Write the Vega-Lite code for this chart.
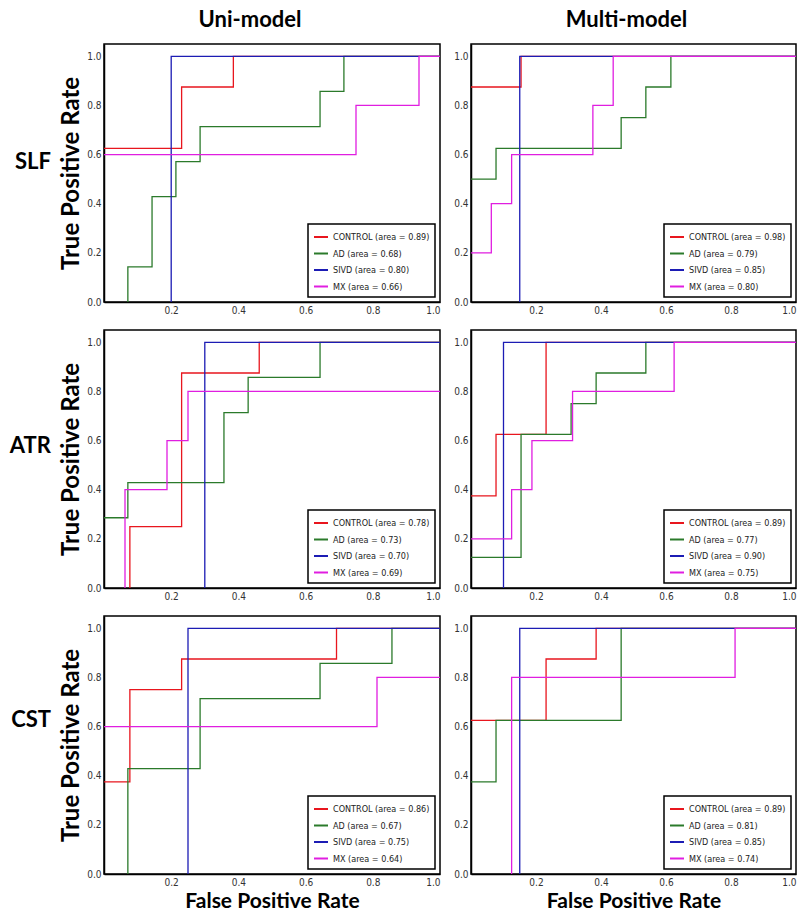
{
  "$schema": "https://vega.github.io/schema/vega-lite/v6.json",
  "padding": {"left": 9, "top": 8, "right": 2, "bottom": 2},
  "datasets": {
    "roc": [
      {"p":"SU","k":1,"label":"CONTROL (area = 0.89)","fpr":0,"tpr":0.625},
      {"p":"SU","k":1,"label":"CONTROL (area = 0.89)","fpr":0.231,"tpr":0.625},
      {"p":"SU","k":1,"label":"CONTROL (area = 0.89)","fpr":0.231,"tpr":0.875},
      {"p":"SU","k":1,"label":"CONTROL (area = 0.89)","fpr":0.385,"tpr":0.875},
      {"p":"SU","k":1,"label":"CONTROL (area = 0.89)","fpr":0.385,"tpr":1},
      {"p":"SU","k":1,"label":"CONTROL (area = 0.89)","fpr":1,"tpr":1},
      {"p":"SU","k":2,"label":"AD (area = 0.68)","fpr":0.071,"tpr":0},
      {"p":"SU","k":2,"label":"AD (area = 0.68)","fpr":0.071,"tpr":0.143},
      {"p":"SU","k":2,"label":"AD (area = 0.68)","fpr":0.143,"tpr":0.143},
      {"p":"SU","k":2,"label":"AD (area = 0.68)","fpr":0.143,"tpr":0.429},
      {"p":"SU","k":2,"label":"AD (area = 0.68)","fpr":0.214,"tpr":0.429},
      {"p":"SU","k":2,"label":"AD (area = 0.68)","fpr":0.214,"tpr":0.571},
      {"p":"SU","k":2,"label":"AD (area = 0.68)","fpr":0.286,"tpr":0.571},
      {"p":"SU","k":2,"label":"AD (area = 0.68)","fpr":0.286,"tpr":0.714},
      {"p":"SU","k":2,"label":"AD (area = 0.68)","fpr":0.643,"tpr":0.714},
      {"p":"SU","k":2,"label":"AD (area = 0.68)","fpr":0.643,"tpr":0.857},
      {"p":"SU","k":2,"label":"AD (area = 0.68)","fpr":0.714,"tpr":0.857},
      {"p":"SU","k":2,"label":"AD (area = 0.68)","fpr":0.714,"tpr":1},
      {"p":"SU","k":2,"label":"AD (area = 0.68)","fpr":1,"tpr":1},
      {"p":"SU","k":3,"label":"SIVD (area = 0.80)","fpr":0.2,"tpr":0},
      {"p":"SU","k":3,"label":"SIVD (area = 0.80)","fpr":0.2,"tpr":1},
      {"p":"SU","k":3,"label":"SIVD (area = 0.80)","fpr":1,"tpr":1},
      {"p":"SU","k":4,"label":"MX (area = 0.66)","fpr":0,"tpr":0.6},
      {"p":"SU","k":4,"label":"MX (area = 0.66)","fpr":0.75,"tpr":0.6},
      {"p":"SU","k":4,"label":"MX (area = 0.66)","fpr":0.75,"tpr":0.8},
      {"p":"SU","k":4,"label":"MX (area = 0.66)","fpr":0.9375,"tpr":0.8},
      {"p":"SU","k":4,"label":"MX (area = 0.66)","fpr":0.9375,"tpr":1},
      {"p":"SU","k":4,"label":"MX (area = 0.66)","fpr":1,"tpr":1},

      {"p":"SM","k":1,"label":"CONTROL (area = 0.98)","fpr":0,"tpr":0.875},
      {"p":"SM","k":1,"label":"CONTROL (area = 0.98)","fpr":0.154,"tpr":0.875},
      {"p":"SM","k":1,"label":"CONTROL (area = 0.98)","fpr":0.154,"tpr":1},
      {"p":"SM","k":1,"label":"CONTROL (area = 0.98)","fpr":1,"tpr":1},
      {"p":"SM","k":2,"label":"AD (area = 0.79)","fpr":0,"tpr":0.5},
      {"p":"SM","k":2,"label":"AD (area = 0.79)","fpr":0.077,"tpr":0.5},
      {"p":"SM","k":2,"label":"AD (area = 0.79)","fpr":0.077,"tpr":0.625},
      {"p":"SM","k":2,"label":"AD (area = 0.79)","fpr":0.462,"tpr":0.625},
      {"p":"SM","k":2,"label":"AD (area = 0.79)","fpr":0.462,"tpr":0.75},
      {"p":"SM","k":2,"label":"AD (area = 0.79)","fpr":0.538,"tpr":0.75},
      {"p":"SM","k":2,"label":"AD (area = 0.79)","fpr":0.538,"tpr":0.875},
      {"p":"SM","k":2,"label":"AD (area = 0.79)","fpr":0.615,"tpr":0.875},
      {"p":"SM","k":2,"label":"AD (area = 0.79)","fpr":0.615,"tpr":1},
      {"p":"SM","k":2,"label":"AD (area = 0.79)","fpr":1,"tpr":1},
      {"p":"SM","k":3,"label":"SIVD (area = 0.85)","fpr":0.15,"tpr":0},
      {"p":"SM","k":3,"label":"SIVD (area = 0.85)","fpr":0.15,"tpr":1},
      {"p":"SM","k":3,"label":"SIVD (area = 0.85)","fpr":1,"tpr":1},
      {"p":"SM","k":4,"label":"MX (area = 0.80)","fpr":0,"tpr":0.2},
      {"p":"SM","k":4,"label":"MX (area = 0.80)","fpr":0.0625,"tpr":0.2},
      {"p":"SM","k":4,"label":"MX (area = 0.80)","fpr":0.0625,"tpr":0.4},
      {"p":"SM","k":4,"label":"MX (area = 0.80)","fpr":0.125,"tpr":0.4},
      {"p":"SM","k":4,"label":"MX (area = 0.80)","fpr":0.125,"tpr":0.6},
      {"p":"SM","k":4,"label":"MX (area = 0.80)","fpr":0.375,"tpr":0.6},
      {"p":"SM","k":4,"label":"MX (area = 0.80)","fpr":0.375,"tpr":0.8},
      {"p":"SM","k":4,"label":"MX (area = 0.80)","fpr":0.4375,"tpr":0.8},
      {"p":"SM","k":4,"label":"MX (area = 0.80)","fpr":0.4375,"tpr":1},
      {"p":"SM","k":4,"label":"MX (area = 0.80)","fpr":1,"tpr":1},

      {"p":"AU","k":1,"label":"CONTROL (area = 0.78)","fpr":0.077,"tpr":0},
      {"p":"AU","k":1,"label":"CONTROL (area = 0.78)","fpr":0.077,"tpr":0.25},
      {"p":"AU","k":1,"label":"CONTROL (area = 0.78)","fpr":0.231,"tpr":0.25},
      {"p":"AU","k":1,"label":"CONTROL (area = 0.78)","fpr":0.231,"tpr":0.875},
      {"p":"AU","k":1,"label":"CONTROL (area = 0.78)","fpr":0.462,"tpr":0.875},
      {"p":"AU","k":1,"label":"CONTROL (area = 0.78)","fpr":0.462,"tpr":1},
      {"p":"AU","k":1,"label":"CONTROL (area = 0.78)","fpr":1,"tpr":1},
      {"p":"AU","k":2,"label":"AD (area = 0.73)","fpr":0,"tpr":0.286},
      {"p":"AU","k":2,"label":"AD (area = 0.73)","fpr":0.071,"tpr":0.286},
      {"p":"AU","k":2,"label":"AD (area = 0.73)","fpr":0.071,"tpr":0.429},
      {"p":"AU","k":2,"label":"AD (area = 0.73)","fpr":0.357,"tpr":0.429},
      {"p":"AU","k":2,"label":"AD (area = 0.73)","fpr":0.357,"tpr":0.714},
      {"p":"AU","k":2,"label":"AD (area = 0.73)","fpr":0.429,"tpr":0.714},
      {"p":"AU","k":2,"label":"AD (area = 0.73)","fpr":0.429,"tpr":0.857},
      {"p":"AU","k":2,"label":"AD (area = 0.73)","fpr":0.643,"tpr":0.857},
      {"p":"AU","k":2,"label":"AD (area = 0.73)","fpr":0.643,"tpr":1},
      {"p":"AU","k":2,"label":"AD (area = 0.73)","fpr":1,"tpr":1},
      {"p":"AU","k":3,"label":"SIVD (area = 0.70)","fpr":0.3,"tpr":0},
      {"p":"AU","k":3,"label":"SIVD (area = 0.70)","fpr":0.3,"tpr":1},
      {"p":"AU","k":3,"label":"SIVD (area = 0.70)","fpr":1,"tpr":1},
      {"p":"AU","k":4,"label":"MX (area = 0.69)","fpr":0.0625,"tpr":0},
      {"p":"AU","k":4,"label":"MX (area = 0.69)","fpr":0.0625,"tpr":0.4},
      {"p":"AU","k":4,"label":"MX (area = 0.69)","fpr":0.1875,"tpr":0.4},
      {"p":"AU","k":4,"label":"MX (area = 0.69)","fpr":0.1875,"tpr":0.6},
      {"p":"AU","k":4,"label":"MX (area = 0.69)","fpr":0.25,"tpr":0.6},
      {"p":"AU","k":4,"label":"MX (area = 0.69)","fpr":0.25,"tpr":0.8},
      {"p":"AU","k":4,"label":"MX (area = 0.69)","fpr":1,"tpr":0.8},

      {"p":"AM","k":1,"label":"CONTROL (area = 0.89)","fpr":0,"tpr":0.375},
      {"p":"AM","k":1,"label":"CONTROL (area = 0.89)","fpr":0.077,"tpr":0.375},
      {"p":"AM","k":1,"label":"CONTROL (area = 0.89)","fpr":0.077,"tpr":0.625},
      {"p":"AM","k":1,"label":"CONTROL (area = 0.89)","fpr":0.231,"tpr":0.625},
      {"p":"AM","k":1,"label":"CONTROL (area = 0.89)","fpr":0.231,"tpr":1},
      {"p":"AM","k":1,"label":"CONTROL (area = 0.89)","fpr":1,"tpr":1},
      {"p":"AM","k":2,"label":"AD (area = 0.77)","fpr":0,"tpr":0.125},
      {"p":"AM","k":2,"label":"AD (area = 0.77)","fpr":0.154,"tpr":0.125},
      {"p":"AM","k":2,"label":"AD (area = 0.77)","fpr":0.154,"tpr":0.625},
      {"p":"AM","k":2,"label":"AD (area = 0.77)","fpr":0.308,"tpr":0.625},
      {"p":"AM","k":2,"label":"AD (area = 0.77)","fpr":0.308,"tpr":0.75},
      {"p":"AM","k":2,"label":"AD (area = 0.77)","fpr":0.385,"tpr":0.75},
      {"p":"AM","k":2,"label":"AD (area = 0.77)","fpr":0.385,"tpr":0.875},
      {"p":"AM","k":2,"label":"AD (area = 0.77)","fpr":0.538,"tpr":0.875},
      {"p":"AM","k":2,"label":"AD (area = 0.77)","fpr":0.538,"tpr":1},
      {"p":"AM","k":2,"label":"AD (area = 0.77)","fpr":1,"tpr":1},
      {"p":"AM","k":3,"label":"SIVD (area = 0.90)","fpr":0.1,"tpr":0},
      {"p":"AM","k":3,"label":"SIVD (area = 0.90)","fpr":0.1,"tpr":1},
      {"p":"AM","k":3,"label":"SIVD (area = 0.90)","fpr":1,"tpr":1},
      {"p":"AM","k":4,"label":"MX (area = 0.75)","fpr":0,"tpr":0.2},
      {"p":"AM","k":4,"label":"MX (area = 0.75)","fpr":0.125,"tpr":0.2},
      {"p":"AM","k":4,"label":"MX (area = 0.75)","fpr":0.125,"tpr":0.4},
      {"p":"AM","k":4,"label":"MX (area = 0.75)","fpr":0.1875,"tpr":0.4},
      {"p":"AM","k":4,"label":"MX (area = 0.75)","fpr":0.1875,"tpr":0.6},
      {"p":"AM","k":4,"label":"MX (area = 0.75)","fpr":0.3125,"tpr":0.6},
      {"p":"AM","k":4,"label":"MX (area = 0.75)","fpr":0.3125,"tpr":0.8},
      {"p":"AM","k":4,"label":"MX (area = 0.75)","fpr":0.625,"tpr":0.8},
      {"p":"AM","k":4,"label":"MX (area = 0.75)","fpr":0.625,"tpr":1},
      {"p":"AM","k":4,"label":"MX (area = 0.75)","fpr":1,"tpr":1},

      {"p":"CU","k":1,"label":"CONTROL (area = 0.86)","fpr":0,"tpr":0.375},
      {"p":"CU","k":1,"label":"CONTROL (area = 0.86)","fpr":0.077,"tpr":0.375},
      {"p":"CU","k":1,"label":"CONTROL (area = 0.86)","fpr":0.077,"tpr":0.75},
      {"p":"CU","k":1,"label":"CONTROL (area = 0.86)","fpr":0.231,"tpr":0.75},
      {"p":"CU","k":1,"label":"CONTROL (area = 0.86)","fpr":0.231,"tpr":0.875},
      {"p":"CU","k":1,"label":"CONTROL (area = 0.86)","fpr":0.692,"tpr":0.875},
      {"p":"CU","k":1,"label":"CONTROL (area = 0.86)","fpr":0.692,"tpr":1},
      {"p":"CU","k":1,"label":"CONTROL (area = 0.86)","fpr":1,"tpr":1},
      {"p":"CU","k":2,"label":"AD (area = 0.67)","fpr":0.071,"tpr":0},
      {"p":"CU","k":2,"label":"AD (area = 0.67)","fpr":0.071,"tpr":0.429},
      {"p":"CU","k":2,"label":"AD (area = 0.67)","fpr":0.286,"tpr":0.429},
      {"p":"CU","k":2,"label":"AD (area = 0.67)","fpr":0.286,"tpr":0.714},
      {"p":"CU","k":2,"label":"AD (area = 0.67)","fpr":0.643,"tpr":0.714},
      {"p":"CU","k":2,"label":"AD (area = 0.67)","fpr":0.643,"tpr":0.857},
      {"p":"CU","k":2,"label":"AD (area = 0.67)","fpr":0.857,"tpr":0.857},
      {"p":"CU","k":2,"label":"AD (area = 0.67)","fpr":0.857,"tpr":1},
      {"p":"CU","k":2,"label":"AD (area = 0.67)","fpr":1,"tpr":1},
      {"p":"CU","k":3,"label":"SIVD (area = 0.75)","fpr":0.25,"tpr":0},
      {"p":"CU","k":3,"label":"SIVD (area = 0.75)","fpr":0.25,"tpr":1},
      {"p":"CU","k":3,"label":"SIVD (area = 0.75)","fpr":1,"tpr":1},
      {"p":"CU","k":4,"label":"MX (area = 0.64)","fpr":0,"tpr":0.6},
      {"p":"CU","k":4,"label":"MX (area = 0.64)","fpr":0.8125,"tpr":0.6},
      {"p":"CU","k":4,"label":"MX (area = 0.64)","fpr":0.8125,"tpr":0.8},
      {"p":"CU","k":4,"label":"MX (area = 0.64)","fpr":1,"tpr":0.8},

      {"p":"CM","k":1,"label":"CONTROL (area = 0.89)","fpr":0,"tpr":0.625},
      {"p":"CM","k":1,"label":"CONTROL (area = 0.89)","fpr":0.231,"tpr":0.625},
      {"p":"CM","k":1,"label":"CONTROL (area = 0.89)","fpr":0.231,"tpr":0.875},
      {"p":"CM","k":1,"label":"CONTROL (area = 0.89)","fpr":0.385,"tpr":0.875},
      {"p":"CM","k":1,"label":"CONTROL (area = 0.89)","fpr":0.385,"tpr":1},
      {"p":"CM","k":1,"label":"CONTROL (area = 0.89)","fpr":1,"tpr":1},
      {"p":"CM","k":2,"label":"AD (area = 0.81)","fpr":0,"tpr":0.375},
      {"p":"CM","k":2,"label":"AD (area = 0.81)","fpr":0.077,"tpr":0.375},
      {"p":"CM","k":2,"label":"AD (area = 0.81)","fpr":0.077,"tpr":0.625},
      {"p":"CM","k":2,"label":"AD (area = 0.81)","fpr":0.462,"tpr":0.625},
      {"p":"CM","k":2,"label":"AD (area = 0.81)","fpr":0.462,"tpr":1},
      {"p":"CM","k":2,"label":"AD (area = 0.81)","fpr":1,"tpr":1},
      {"p":"CM","k":3,"label":"SIVD (area = 0.85)","fpr":0.15,"tpr":0},
      {"p":"CM","k":3,"label":"SIVD (area = 0.85)","fpr":0.15,"tpr":1},
      {"p":"CM","k":3,"label":"SIVD (area = 0.85)","fpr":1,"tpr":1},
      {"p":"CM","k":4,"label":"MX (area = 0.74)","fpr":0.125,"tpr":0},
      {"p":"CM","k":4,"label":"MX (area = 0.74)","fpr":0.125,"tpr":0.8},
      {"p":"CM","k":4,"label":"MX (area = 0.74)","fpr":0.8125,"tpr":0.8},
      {"p":"CM","k":4,"label":"MX (area = 0.74)","fpr":0.8125,"tpr":1},
      {"p":"CM","k":4,"label":"MX (area = 0.74)","fpr":1,"tpr":1}
    ]
  },
  "spacing": 13,
  "resolve": {"scale": {"color": "independent"}, "legend": {"color": "independent"}},
  "vconcat": [
    {
      "title": {"text": "SLF", "orient": "left", "angle": 0, "align": "left", "baseline": "middle", "anchor": "middle", "offset": 8, "dy": 0},
      "spacing": 8,
      "resolve": {"scale": {"color": "independent"}, "legend": {"color": "independent"}},
      "hconcat": [
        {
          "title": {"text": "Uni-model", "dx": -22},
          "width": 336, "height": 258,
          "data": {"name": "roc"},
          "transform": [{"window": [{"op": "row_number", "as": "i"}]}, {"filter": "datum.p == 'SU'"}],
          "mark": {"type": "line", "strokeWidth": 1.3},
          "encoding": {
            "x": {"field": "fpr", "type": "quantitative", "scale": {"domain": [0, 1], "nice": false}, "axis": {"values": [0.2, 0.4, 0.6, 0.8, 1.0], "format": ".1f", "title": null}},
            "y": {"field": "tpr", "type": "quantitative", "scale": {"domain": [0, 1.05], "nice": false}, "axis": {"values": [0, 0.2, 0.4, 0.6, 0.8, 1.0], "format": ".1f", "title": "True Positive Rate"}},
            "color": {"field": "label", "type": "nominal", "sort": {"field": "k", "op": "min"}, "scale": {"range": ["#e8161e", "#2b7a2b", "#1c1cb4", "#e01ee0"]}, "legend": {"title": null}},
            "order": {"field": "i"}
          }
        },
        {
          "title": {"text": "Multi-model", "dx": -7},
          "width": 325, "height": 258,
          "data": {"name": "roc"},
          "transform": [{"window": [{"op": "row_number", "as": "i"}]}, {"filter": "datum.p == 'SM'"}],
          "mark": {"type": "line", "strokeWidth": 1.3},
          "encoding": {
            "x": {"field": "fpr", "type": "quantitative", "scale": {"domain": [0, 1], "nice": false}, "axis": {"values": [0.2, 0.4, 0.6, 0.8, 1.0], "format": ".1f", "title": null}},
            "y": {"field": "tpr", "type": "quantitative", "scale": {"domain": [0, 1.05], "nice": false}, "axis": {"values": [0, 0.2, 0.4, 0.6, 0.8, 1.0], "format": ".1f", "title": null}},
            "color": {"field": "label", "type": "nominal", "sort": {"field": "k", "op": "min"}, "scale": {"range": ["#e8161e", "#2b7a2b", "#1c1cb4", "#e01ee0"]}, "legend": {"title": null}},
            "order": {"field": "i"}
          }
        }
      ]
    },
    {
      "title": {"text": "ATR", "orient": "left", "angle": 0, "align": "left", "baseline": "middle", "anchor": "middle", "offset": 8, "dy": -20},
      "spacing": 8,
      "resolve": {"scale": {"color": "independent"}, "legend": {"color": "independent"}},
      "hconcat": [
        {
          "width": 336, "height": 258,
          "data": {"name": "roc"},
          "transform": [{"window": [{"op": "row_number", "as": "i"}]}, {"filter": "datum.p == 'AU'"}],
          "mark": {"type": "line", "strokeWidth": 1.3},
          "encoding": {
            "x": {"field": "fpr", "type": "quantitative", "scale": {"domain": [0, 1], "nice": false}, "axis": {"values": [0.2, 0.4, 0.6, 0.8, 1.0], "format": ".1f", "title": null}},
            "y": {"field": "tpr", "type": "quantitative", "scale": {"domain": [0, 1.05], "nice": false}, "axis": {"values": [0, 0.2, 0.4, 0.6, 0.8, 1.0], "format": ".1f", "title": "True Positive Rate"}},
            "color": {"field": "label", "type": "nominal", "sort": {"field": "k", "op": "min"}, "scale": {"range": ["#e8161e", "#2b7a2b", "#1c1cb4", "#e01ee0"]}, "legend": {"title": null}},
            "order": {"field": "i"}
          }
        },
        {
          "width": 325, "height": 258,
          "data": {"name": "roc"},
          "transform": [{"window": [{"op": "row_number", "as": "i"}]}, {"filter": "datum.p == 'AM'"}],
          "mark": {"type": "line", "strokeWidth": 1.3},
          "encoding": {
            "x": {"field": "fpr", "type": "quantitative", "scale": {"domain": [0, 1], "nice": false}, "axis": {"values": [0.2, 0.4, 0.6, 0.8, 1.0], "format": ".1f", "title": null}},
            "y": {"field": "tpr", "type": "quantitative", "scale": {"domain": [0, 1.05], "nice": false}, "axis": {"values": [0, 0.2, 0.4, 0.6, 0.8, 1.0], "format": ".1f", "title": null}},
            "color": {"field": "label", "type": "nominal", "sort": {"field": "k", "op": "min"}, "scale": {"range": ["#e8161e", "#2b7a2b", "#1c1cb4", "#e01ee0"]}, "legend": {"title": null}},
            "order": {"field": "i"}
          }
        }
      ]
    },
    {
      "title": {"text": "CST", "orient": "left", "angle": 0, "align": "left", "baseline": "middle", "anchor": "middle", "offset": 8, "dy": -44},
      "spacing": 8,
      "resolve": {"scale": {"color": "independent"}, "legend": {"color": "independent"}},
      "hconcat": [
        {
          "width": 336, "height": 258,
          "data": {"name": "roc"},
          "transform": [{"window": [{"op": "row_number", "as": "i"}]}, {"filter": "datum.p == 'CU'"}],
          "mark": {"type": "line", "strokeWidth": 1.3},
          "encoding": {
            "x": {"field": "fpr", "type": "quantitative", "scale": {"domain": [0, 1], "nice": false}, "axis": {"values": [0.2, 0.4, 0.6, 0.8, 1.0], "format": ".1f", "title": "False Positive Rate"}},
            "y": {"field": "tpr", "type": "quantitative", "scale": {"domain": [0, 1.05], "nice": false}, "axis": {"values": [0, 0.2, 0.4, 0.6, 0.8, 1.0], "format": ".1f", "title": "True Positive Rate"}},
            "color": {"field": "label", "type": "nominal", "sort": {"field": "k", "op": "min"}, "scale": {"range": ["#e8161e", "#2b7a2b", "#1c1cb4", "#e01ee0"]}, "legend": {"title": null}},
            "order": {"field": "i"}
          }
        },
        {
          "width": 325, "height": 258,
          "data": {"name": "roc"},
          "transform": [{"window": [{"op": "row_number", "as": "i"}]}, {"filter": "datum.p == 'CM'"}],
          "mark": {"type": "line", "strokeWidth": 1.3},
          "encoding": {
            "x": {"field": "fpr", "type": "quantitative", "scale": {"domain": [0, 1], "nice": false}, "axis": {"values": [0.2, 0.4, 0.6, 0.8, 1.0], "format": ".1f", "title": "False Positive Rate"}},
            "y": {"field": "tpr", "type": "quantitative", "scale": {"domain": [0, 1.05], "nice": false}, "axis": {"values": [0, 0.2, 0.4, 0.6, 0.8, 1.0], "format": ".1f", "title": null}},
            "color": {"field": "label", "type": "nominal", "sort": {"field": "k", "op": "min"}, "scale": {"range": ["#e8161e", "#2b7a2b", "#1c1cb4", "#e01ee0"]}, "legend": {"title": null}},
            "order": {"field": "i"}
          }
        }
      ]
    }
  ],
  "config": {
    "background": "white",
    "view": {"stroke": "black", "strokeWidth": 1.5},
    "title": {"font": "Lato", "fontSize": 22, "fontWeight": "bold", "color": "black", "offset": 12},
    "axis": {
      "grid": false,
      "ticks": false,
      "domainColor": "black",
      "domainWidth": 1.5,
      "zindex": 1,
      "labelFont": "'Liberation Sans Narrow', 'DejaVu Sans Condensed', sans-serif",
      "labelFontSize": 10,
      "labelColor": "#333333",
      "labelPadding": 3,
      "titleFont": "Lato",
      "titleFontWeight": "bold",
      "titleColor": "black"
    },
    "axisX": {"titlePadding": 3, "titleFontSize": 21},
    "axisY": {"titlePadding": 3, "titleFontSize": 24},
    "legend": {
      "orient": "bottom-right",
      "offset": 5,
      "strokeColor": "black",
      "strokeWidth": 1.5,
      "fillColor": "white",
      "padding": 5,
      "symbolType": "stroke",
      "symbolSize": 196,
      "symbolStrokeWidth": 2,
      "labelFont": "'Liberation Sans Narrow', 'DejaVu Sans Condensed', sans-serif",
      "labelFontSize": 9,
      "labelColor": "#222222",
      "labelOffset": 4,
      "rowPadding": 3.5
    }
  }
}
